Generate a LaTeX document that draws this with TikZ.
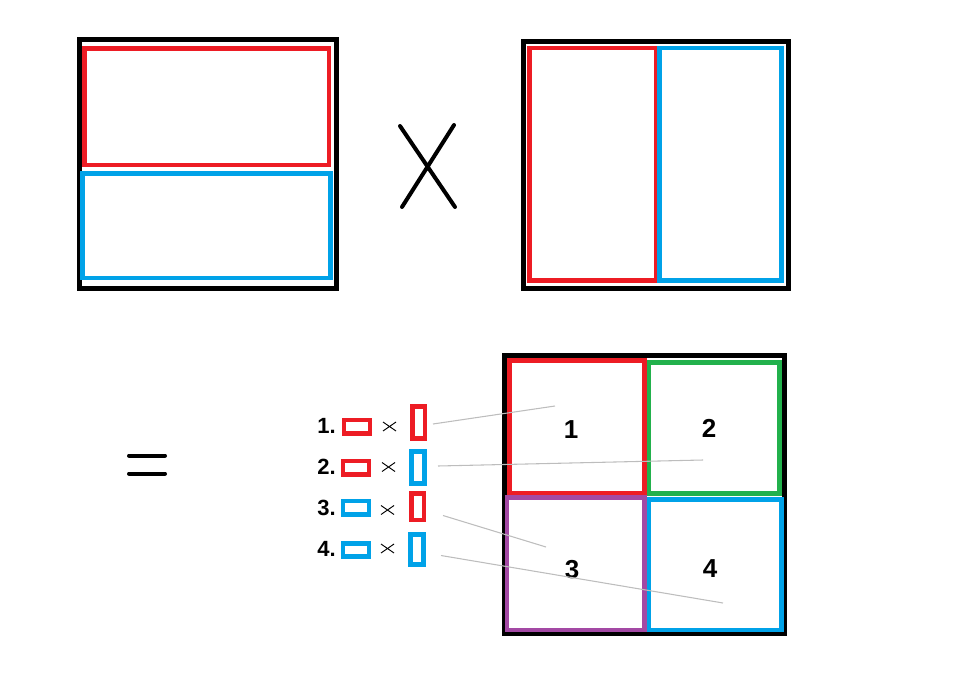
\documentclass[tikz,border=0pt]{standalone}
\usepackage{fontspec}
\setmainfont{Liberation Sans}
\usepackage{tikz}

\definecolor{pred}{HTML}{ED1C24}
\definecolor{pblue}{HTML}{00A2E8}
\definecolor{pgreen}{HTML}{22B14C}
\definecolor{ppurple}{HTML}{A349A4}
\definecolor{pgray}{HTML}{BDBDBD}

\tikzset{
  frame/.style={draw=black,line width=3.75pt},
  part/.style={line width=3.5pt},
  tiny/.style={draw,line width=3.5pt,inner sep=0pt,minimum width=19.5pt,minimum height=10pt},
  tall/.style={draw,line width=3.5pt,inner sep=0pt,minimum width=9.5pt},
  num/.style={font=\bfseries\fontsize{16.5}{16.5}\selectfont},
  big/.style={font=\bfseries\fontsize{19.5}{19.5}\selectfont},
  link/.style={draw=pgray,line width=0.8pt},
  mult/.pic={\draw[line width=0.7pt] (-6.5,-4.5) -- (6.5,4.5) (-6.5,4.5) -- (6.5,-4.5);}
}

\begin{document}
\begin{tikzpicture}[x=0.75pt,y=-0.75pt]
\useasboundingbox (0,0) rectangle (969,695);

%Left factor: rows
\draw[frame] (79,40) rectangle (336,288);
\draw[part,pred] (84.5,48.5) rectangle (329,165);
\draw[part,pblue] (82.5,173.5) rectangle (330.5,278);

% times sign
\draw[line width=3pt,line cap=round] (400,126) -- (455,207) (454,125) -- (402,207);

%Right factor: columns
\draw[frame] (523.5,41.5) rectangle (788.5,288.5);
\draw[part,pred] (529.7,48) rectangle (656,280.5);
\draw[part,pblue] (659.7,48) rectangle (781.7,280.5);

% equals sign
\draw[line width=3pt,line cap=round] (129,455.5) -- (165,455.5) (129,473.5) -- (165,473.5);

%Product: four cells
\draw[frame] (504,355.5) rectangle (784,633);
\draw[part,pred] (509.7,360.7) rectangle (644.3,493.3);
\draw[part,pgreen] (649,362.5) rectangle (779.7,493.3);
\draw[part,ppurple] (507,497.5) rectangle (644.3,630);
\draw[part,pblue] (649,499.3) rectangle (781.7,630);

\node[big] (n1) at (571,430) {1};
\node[big] (n2) at (709,428) {2};
\node[big] (n3) at (572,570) {3};
\node[big] (n4) at (710,569) {4};

%List of products
\node[num] (l1) at (326.5,426) {1.};
\node[num] (l2) at (326.5,467) {2.};
\node[num] (l3) at (326.5,508) {3.};
\node[num] (l4) at (326.5,549) {4.};

\node[tiny,pred] (h1) at (357,426.5) {};
\node[tiny,pred] (h2) at (356,467.5) {};
\node[tiny,pblue] (h3) at (356,507.5) {};
\node[tiny,pblue] (h4) at (356,550) {};

\pic at (389.5,426.5) {mult};
\pic at (388.5,467) {mult};
\pic at (387.5,510) {mult};
\pic at (387.5,548.5) {mult};

\node[tall,pred,minimum height=24pt] (v1) at (418.5,422.5) {};
\node[tall,pblue,minimum height=24pt] (v2) at (418,467.5) {};
\node[tall,pred,minimum height=20pt] (v3) at (417.5,506.5) {};
\node[tall,pblue,minimum height=22.5pt] (v4) at (417,549.5) {};

% Define coordinates
\coordinate (s1) at (433,424);
\coordinate (s2) at (438,466);
\coordinate (s3) at (443,515.5);
\coordinate (s4) at (441,555.5);
\coordinate (e1) at (555,406);
\coordinate (e2) at (703,460);
\coordinate (e3) at (546,547);
\coordinate (e4) at (723,603);

\draw[link] (s1) -- (e1);
\draw[link] (s2) -- (e2);
\draw[link] (s3) -- (e3);
\draw[link] (s4) -- (e4);

\end{tikzpicture}
\end{document}
